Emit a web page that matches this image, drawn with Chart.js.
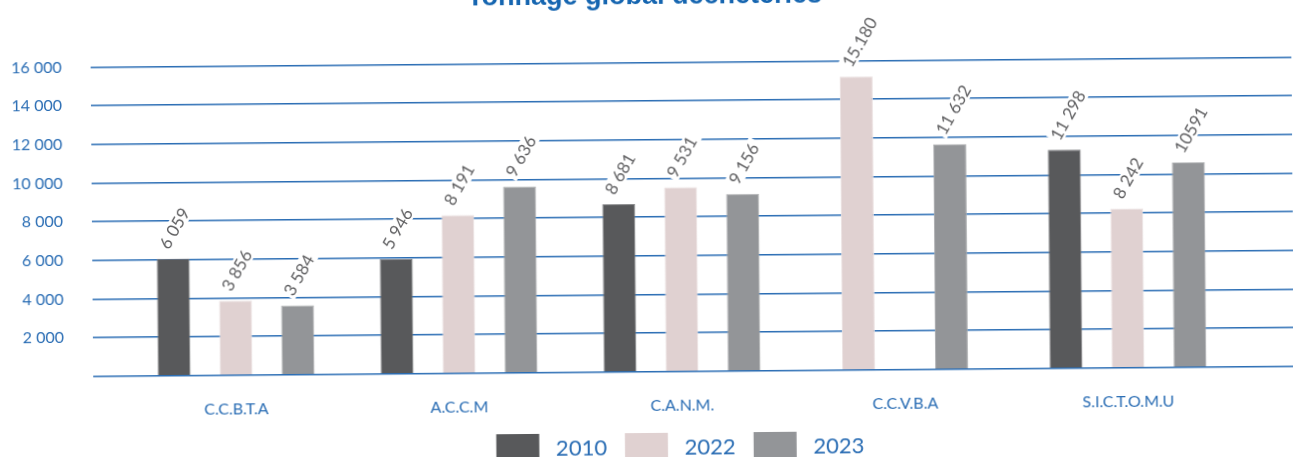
<!DOCTYPE html>
<html>
<head>
<meta charset="utf-8">
<script src="https://cdn.jsdelivr.net/npm/chart.js@4.4.1/dist/chart.umd.min.js"></script>
<style>
  html, body { margin: 0; padding: 0; background: #fff; overflow: hidden; }
  body { width: 1293px; height: 457px; position: relative; }
  #wrap {
    position: absolute; left: 0; top: -30px; width: 1293px; height: 503px;
    transform: rotate(-0.48deg); transform-origin: 646px 258px;
  }
</style>
</head>
<body>
<div id="wrap"><canvas id="tonnageChart"></canvas></div>
<script>
const categories = ['C.C.B.T.A', 'A.C.C.M', 'C.A.N.M.', 'C.C.V.B.A', 'S.I.C.T.O.M.U'];
const years = ['2010', '2022', '2023'];

const tonnage2010 = [6059, 5946, 8681, null, 11298];
const tonnage2022 = [3856, 8191, 9531, 15180, 8242];
const tonnage2023 = [3584, 9636, 9156, 11632, 10591];

// value labels as printed on the original
const labels2010 = ['6 059', '5 946', '8 681', null, '11 298'];
const labels2022 = ['3 856', '8 191', '9 531', '15.180', '8 242'];
const labels2023 = ['3 584', '9 636', '9 156', '11 632', '10591'];

const yTicks = [0, 2000, 4000, 6000, 8000, 10000, 12000, 14000, 16000];

const blue = '#2a6db4';

function toPoints(values) {
    return values.map((v, i) => ({ x: i + 1, y: v }));
}

function thousands(v) {
    return String(v).replace(/\B(?=(\d{3})+(?!\d))/g, ' ');
}

// rotated value labels on top of each bar
const valueLabels = {
    id: 'valueLabels',
    afterDatasetsDraw(chart) {
        const ctx = chart.ctx;
        ctx.save();
        ctx.font = '17px Lato';
        ctx.textAlign = 'left';
        ctx.textBaseline = 'middle';
        chart.data.datasets.forEach((ds, i) => {
            const meta = chart.getDatasetMeta(i);
            meta.data.forEach((bar, j) => {
                const txt = ds.valueLabels[j];
                if (!txt || ds.data[j].y == null) return;
                ctx.save();
                ctx.translate(bar.x - 9, bar.y - 11);
                ctx.rotate(-60 * Math.PI / 180);
                const w = ctx.measureText(txt).width;
                ctx.fillStyle = '#ffffff';
                ctx.fillRect(-2, -9, w + 6, 17);
                ctx.fillStyle = '#606062';
                ctx.fillText(txt, 0, 0);
                ctx.restore();
            });
        });
        ctx.restore();
    }
};

// legend sits a bit right of centre in the original
const legendShift = {
    id: 'legendShift',
    afterLayout(chart) {
        chart.legend.left += 64;
    }
};

const ctx = document.getElementById('tonnageChart').getContext('2d');

new Chart(ctx, {
    type: 'bar',
    data: {
        datasets: [{
            label: years[0],
            data: toPoints(tonnage2010),
            valueLabels: labels2010,
            backgroundColor: '#58595b',
            borderColor: '#7d7e80',
            borderWidth: 1,
        }, {
            label: years[1],
            data: toPoints(tonnage2022),
            valueLabels: labels2022,
            backgroundColor: '#e0d1d1',
            borderColor: '#ebe2e2',
            borderWidth: 1,
        }, {
            label: years[2],
            data: toPoints(tonnage2023),
            valueLabels: labels2023,
            backgroundColor: '#939598',
            borderColor: '#a9abad',
            borderWidth: 1,
        }]
    },
    options: {
        responsive: true,
        maintainAspectRatio: false,
        animation: false,
        skipNull: true,
        categoryPercentage: 0.834,
        barPercentage: 1,
        maxBarThickness: 33,
        layout: { padding: 0 },
        plugins: {
            title: {
                display: true,
                text: 'Tonnage global déchèteries',
                color: '#1565b0',
                font: { family: 'Liberation Sans', size: 27, weight: 'bold' },
                padding: { top: 10.3, bottom: 49.7 }
            },
            legend: {
                position: 'bottom',
                labels: {
                    boxWidth: 43,
                    boxHeight: 30,
                    padding: 18,
                    color: blue,
                    font: { family: 'Lato', size: 22 },
                    generateLabels(chart) {
                        return Chart.defaults.plugins.legend.labels.generateLabels(chart)
                            .map(item => ({ ...item, text: ' ' + item.text, lineWidth: 0 }));
                    }
                }
            },
            tooltip: { enabled: false }
        },
        scales: {
            x: {
                type: 'linear',
                min: 0.359,
                max: 5.745,
                offset: false,
                afterFit: s => { s.height -= 24; },
                grid: { display: false, drawTicks: false },
                border: { display: false },
                ticks: {
                    stepSize: 1,
                    includeBounds: false,
                    autoSkip: false,
                    maxRotation: 0,
                    padding: 24,
                    color: blue,
                    font: { family: 'Lato', size: 16 },
                    callback: v => categories[v - 1] || ''
                }
            },
            y: {
                min: yTicks[0],
                max: yTicks[yTicks.length - 1],
                afterFit: s => { s.width = 92; },
                afterBuildTicks: s => { s.ticks = yTicks.map(v => ({ value: v })); },
                grid: { color: blue, lineWidth: 1.6, drawTicks: false },
                border: { display: false },
                ticks: {
                    padding: 29,
                    color: blue,
                    font: { family: 'Lato', size: 16 },
                    callback: v => v === 0 ? '' : thousands(v)
                }
            }
        }
    },
    plugins: [valueLabels, legendShift]
});
</script>
</body>
</html>
